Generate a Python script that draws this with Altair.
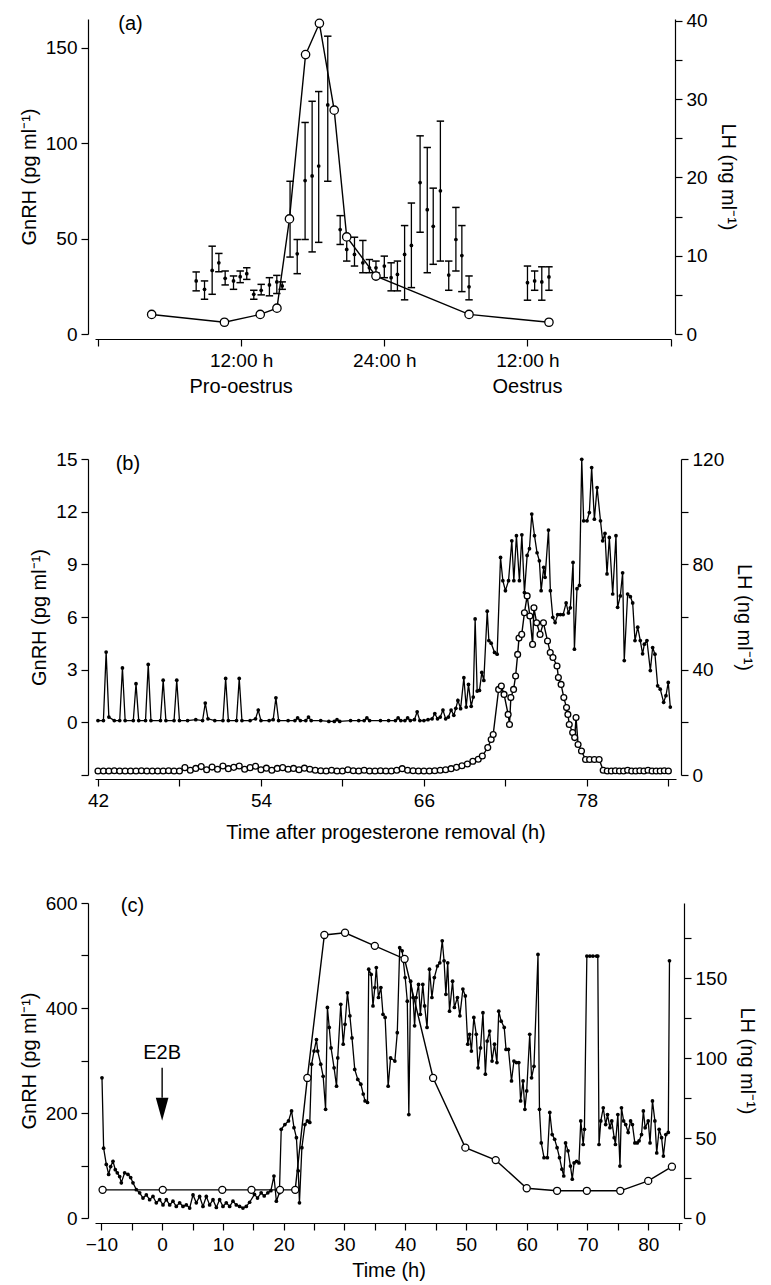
import altair as alt
import pandas as pd

FONT = "Liberation Sans"
SUP = "\u207b\u00b9"

# ---------------- panel (a) ----------------
a_lh_t = [4.5, 10.6, 13.6, 15.0, 16.05, 17.4, 18.56, 19.8, 20.85, 23.3, 31.1, 37.8]
a_lh_v = [2.5, 1.5, 2.5, 3.3, 14.7, 35.7, 39.7, 28.6, 12.4, 7.4, 2.5, 1.5]

a_g_t = [8.23, 8.93, 9.57, 10.13, 10.66, 11.36, 11.92, 12.47, 13.06, 13.68, 14.37, 14.99, 15.44,
         16.1, 16.7, 17.36, 17.95, 18.5, 19.26, 20.3, 20.85, 21.5, 22.2, 22.75, 23.3, 24.0, 24.57,
         25.1, 25.7, 26.27, 27.0, 27.6, 28.1, 28.7, 29.4, 30.0, 30.5, 31.1, 36.0, 36.6, 37.2, 37.8]
a_g_mean = [27.8, 23.4, 33.3, 37.3, 29.2, 27.8, 30.0, 31.6, 20.8, 22.9, 25.7, 27.3, 25.2,
            60.0, 42.0, 80.4, 82.8, 88.0, 120.0, 54.7, 44.3, 41.7, 37.3, 34.7, 34.7, 35.6, 29.5,
            31.2, 41.7, 46.4, 79.3, 65.1, 56.4, 75.0, 30.9, 49.5, 41.1, 24.7, 26.9, 27.8, 27.3, 29.9]
a_g_lo = [22.6, 18.2, 20.8, 32.6, 25.7, 23.4, 26.9, 28.6, 18.2, 20.5, 20.0, 21.2, 23.4,
          40.3, 31.6, 49.5, 43.0, 48.0, 80.0, 46.9, 38.2, 35.6, 32.1, 32.1, 32.1, 29.5, 22.6,
          22.6, 17.9, 24.3, 53.3, 32.1, 36.5, 38.2, 22.9, 33.0, 22.2, 17.9, 17.7, 22.9, 17.7, 22.9]
a_g_hi = [32.5, 27.8, 46.0, 42.2, 33.0, 30.4, 33.0, 34.7, 22.9, 26.0, 29.5, 30.7, 27.3,
          80.0, 49.5, 110.8, 121.9, 127.0, 156.0, 62.0, 50.7, 50.7, 49.0, 39.0, 38.2, 40.8, 37.3,
          38.2, 56.8, 68.6, 103.8, 97.7, 76.4, 111.5, 38.2, 66.3, 56.8, 30.4, 35.6, 33.0, 35.2, 35.2]
a_phase_t = [12, 36]
a_phase_label = ["Pro-oestrus", "Oestrus"]

# ---------------- panel (b) ----------------
b_gnrh = [
    (42.0, 0.1), (42.4, 0.1), (42.6, 4.0), (42.8, 0.3), (43.2, 0.1), (43.6, 0.1), (43.8, 3.1),
    (44.0, 0.1), (44.6, 0.1), (44.8, 2.2), (45.0, 0.1), (45.5, 0.1), (45.7, 3.3), (45.9, 0.1),
    (46.6, 0.1), (46.8, 2.4), (47.0, 0.1), (47.6, 0.1), (47.8, 2.4), (48.0, 0.1), (48.6, 0.1),
    (49.2, 0.15), (49.7, 0.1), (49.9, 1.1), (50.1, 0.2), (50.6, 0.1), (51.2, 0.1), (51.4, 2.5),
    (51.6, 0.1), (52.2, 0.1), (52.4, 2.5), (52.6, 0.1), (53.2, 0.1), (53.6, 0.2), (53.8, 0.7),
    (54.0, 0.1), (54.6, 0.1), (54.9, 0.15), (55.1, 1.4), (55.3, 0.1), (56.0, 0.1), (56.5, 0.1),
    (56.7, 0.25), (56.9, 0.1), (57.3, 0.1), (57.5, 0.3), (57.7, 0.1), (58.4, 0.1), (59.0, 0.05),
    (59.4, 0.05), (59.6, 0.15), (59.8, 0.05), (60.6, 0.1), (61.2, 0.1), (61.6, 0.1), (61.8, 0.25),
    (62.0, 0.1), (62.8, 0.1), (63.4, 0.1), (63.9, 0.1), (64.1, 0.25), (64.3, 0.1), (64.6, 0.1),
    (64.8, 0.25), (65.0, 0.1), (65.3, 0.15), (65.5, 0.6), (65.7, 0.1), (66.0, 0.1), (66.3, 0.15),
    (66.6, 0.2), (66.8, 0.5), (67.0, 0.2), (67.2, 0.3), (67.4, 0.7), (67.6, 0.2), (67.8, 0.3),
    (68.0, 0.7), (68.2, 0.4), (68.35, 0.8),
    (68.5, 1.25), (68.7, 0.78), (68.94, 2.54), (69.11, 0.87), (69.28, 2.16), (69.48, 0.91),
    (69.63, 1.44), (69.77, 5.89), (69.92, 1.78), (70.09, 1.82), (70.26, 2.84), (70.41, 2.39),
    (70.66, 6.33), (70.78, 4.66), (70.95, 4.51), (71.2, 3.98), (71.39, 3.88), (71.64, 9.39),
    (71.81, 8.07), (72.0, 7.5), (72.23, 8.07), (72.47, 10.34), (72.62, 8.07), (72.81, 10.63),
    (73.03, 8.07), (73.21, 10.68), (73.4, 7.39), (73.6, 9.51), (73.77, 9.89), (73.94, 11.86),
    (74.14, 10.63), (74.33, 9.66), (74.5, 9.2), (74.63, 7.5), (74.82, 8.83), (74.92, 8.26),
    (75.17, 10.95), (75.31, 7.5), (75.49, 5.98), (75.66, 5.68), (75.85, 6.14), (76.05, 6.14),
    (76.25, 6.14), (76.47, 6.8), (76.64, 6.23), (76.78, 6.52), (76.98, 9.11), (77.08, 4.17),
    (77.27, 7.61), (77.45, 7.8), (77.62, 14.98), (77.76, 11.48), (78.01, 11.48), (78.18, 11.95),
    (78.35, 14.51), (78.55, 11.57), (78.75, 13.37), (79.0, 11.48), (79.16, 10.34), (79.33, 10.76),
    (79.48, 8.45), (79.65, 10.53), (79.9, 7.31), (80.14, 10.63), (80.26, 6.55), (80.46, 7.2),
    (80.63, 8.52), (80.75, 3.52), (81.0, 7.31), (81.2, 7.16), (81.37, 6.8), (81.54, 4.66),
    (81.74, 5.42), (81.93, 4.66), (82.1, 3.9), (82.23, 4.45), (82.42, 4.66), (82.67, 2.95),
    (82.84, 4.26), (83.01, 3.88), (83.21, 2.08), (83.4, 1.89), (83.65, 1.14), (83.82, 1.52),
    (83.99, 2.27), (84.14, 0.87),
]
b_lh = [
    (42.0, 1.5), (42.4, 1.5), (42.8, 1.5), (43.2, 1.6), (43.6, 1.5), (44.0, 1.5), (44.4, 1.5),
    (44.8, 1.5), (45.2, 1.6), (45.6, 1.5), (46.0, 1.5), (46.4, 1.5), (46.8, 1.5), (47.2, 1.6),
    (47.6, 1.5), (48.0, 1.5), (48.4, 2.8), (48.8, 1.8), (49.2, 2.5), (49.6, 3.2), (50.0, 2.0),
    (50.4, 3.0), (50.8, 2.2), (51.2, 3.4), (51.6, 2.4), (52.0, 2.9), (52.4, 3.4), (52.8, 2.2),
    (53.2, 2.8), (53.6, 3.3), (54.0, 2.0), (54.4, 2.6), (54.8, 1.8), (55.2, 2.5), (55.6, 2.8),
    (56.0, 2.2), (56.4, 2.5), (56.8, 2.0), (57.2, 2.6), (57.6, 2.2), (58.0, 1.8), (58.4, 1.6),
    (58.8, 1.5), (59.2, 1.8), (59.6, 1.5), (60.0, 1.5), (60.4, 2.0), (60.8, 1.6), (61.2, 1.5),
    (61.6, 1.8), (62.0, 1.5), (62.4, 1.5), (62.8, 1.6), (63.2, 1.5), (63.6, 1.5), (64.0, 1.8),
    (64.4, 2.4), (64.8, 1.8), (65.2, 1.6), (65.6, 1.5), (66.0, 1.5), (66.4, 1.5), (66.8, 1.6),
    (67.2, 1.8), (67.6, 2.0), (68.0, 2.4), (68.4, 2.9), (68.8, 3.5), (69.2, 4.2), (69.6, 5.2),
    (70.0, 6.0), (70.3, 7.2), (70.7, 10.4), (70.95, 13.5), (71.1, 15.4), (71.5, 32.5),
    (71.7, 33.8), (71.9, 30.6), (72.2, 23.0), (72.3, 19.2), (72.4, 29.4), (72.6, 32.5),
    (72.75, 37.6), (72.9, 45.8), (73.0, 52.0), (73.2, 53.4), (73.4, 61.6), (73.6, 68.0),
    (73.8, 60.4), (74.0, 49.6), (74.1, 63.5), (74.3, 57.8), (74.55, 53.4), (74.8, 57.8),
    (75.1, 50.9), (75.3, 46.5), (75.5, 44.6), (75.8, 41.4), (75.9, 37.0), (76.1, 34.4),
    (76.3, 29.4), (76.5, 25.6), (76.6, 23.0), (76.7, 19.2), (76.95, 16.1), (77.1, 14.2),
    (77.2, 21.8), (77.35, 11.6), (77.6, 9.1), (77.9, 5.9), (78.2, 5.9), (78.55, 5.9), (78.9, 5.9),
    (79.2, 1.8), (79.5, 1.5), (79.8, 1.5), (80.1, 1.6), (80.4, 1.5), (80.7, 1.5), (81.0, 1.8),
    (81.3, 1.5), (81.6, 1.5), (81.9, 1.6), (82.2, 1.5), (82.5, 1.8), (82.8, 1.5), (83.1, 1.5),
    (83.4, 1.5), (83.7, 1.6), (84.0, 1.5),
]

# ---------------- panel (c) ----------------
c_gnrh = [
    (-9.9, 267), (-9.63, 133), (-9.19, 102), (-8.8, 83), (-8.47, 98), (-8.09, 108), (-7.71, 92),
    (-7.38, 86), (-6.99, 79), (-6.72, 67), (-6.17, 86), (-5.62, 83), (-5.18, 77), (-4.8, 67),
    (-4.25, 54), (-3.7, 48), (-3.15, 38), (-2.6, 44), (-2.06, 35), (-1.51, 41), (-0.96, 29),
    (-0.41, 35), (0.14, 25), (0.69, 35), (1.24, 25), (1.78, 32), (2.33, 22), (2.88, 29),
    (3.43, 22), (3.98, 25), (4.53, 19), (5.08, 44), (5.62, 29), (6.17, 41), (6.72, 22),
    (7.27, 41), (7.82, 25), (8.37, 35), (8.92, 20), (9.46, 35), (10.01, 22), (10.56, 29),
    (11.11, 22), (11.66, 32), (12.21, 25), (12.75, 22), (13.3, 19), (13.85, 22),
    (14.4, 30), (15.2, 45), (15.7, 38), (16.3, 48), (16.8, 42), (17.4, 48), (17.9, 52),
    (18.4, 80), (18.8, 32), (19.3, 48), (19.6, 169), (20.2, 178), (20.8, 185), (21.3, 204),
    (21.7, 172), (22.1, 153), (22.4, 90), (22.6, 29), (23.0, 134), (23.5, 178), (23.9, 185),
    (24.3, 182), (24.6, 293), (25.0, 318), (25.4, 340), (25.6, 318), (26.1, 293), (26.5, 270),
    (26.9, 207), (27.2, 401), (27.5, 363), (27.8, 324), (28.3, 286), (28.7, 251), (28.9, 305),
    (29.4, 407), (29.8, 331), (30.1, 369), (30.5, 429), (30.9, 385), (31.25, 343), (31.7, 283),
    (32.2, 264), (32.7, 255), (33.1, 236), (33.4, 223), (33.8, 220), (34.0, 474), (34.4, 464),
    (34.7, 404), (35.0, 439), (35.25, 477), (35.6, 420), (36.0, 439), (36.35, 388), (36.7, 382),
    (37.2, 251), (37.6, 305), (38.3, 299), (38.7, 353), (39.1, 515), (39.5, 509),
    (40.0, 458), (40.35, 413), (40.6, 197), (40.9, 451), (41.3, 420), (41.55, 366), (41.8, 420),
    (42.2, 445), (42.5, 388), (42.9, 445), (43.2, 404), (43.6, 363), (44.0, 474), (44.4, 420),
    (44.8, 458), (45.3, 480), (45.7, 486), (46.1, 528), (46.4, 490), (46.7, 426), (47.0, 486),
    (47.3, 394), (47.8, 451), (48.1, 401), (48.6, 420), (49.0, 385), (49.5, 436), (49.9, 423),
    (50.3, 331), (50.6, 350), (50.9, 318), (51.3, 382), (51.7, 350), (52.0, 286), (52.4, 324),
    (52.8, 391), (53.2, 274), (53.5, 337), (53.9, 356), (54.3, 299), (54.7, 331), (55.1, 296),
    (55.4, 394), (55.8, 375), (56.3, 363), (56.6, 321), (57.0, 321), (57.5, 261), (57.9, 299),
    (58.3, 296), (58.7, 296), (59.0, 223), (59.4, 261), (59.7, 207), (60.0, 242), (60.5, 350),
    (60.8, 267), (61.2, 289),
    (61.86, 502), (62.1, 207), (62.4, 143), (62.85, 115), (63.4, 115), (63.8, 201), (64.2, 159),
    (64.6, 150), (65.0, 134), (65.4, 115), (65.8, 93), (66.1, 80), (66.4, 143), (66.8, 128),
    (67.2, 99), (67.5, 74), (67.8, 105), (68.2, 108), (68.6, 105), (68.9, 185), (69.3, 140),
    (69.5, 169), (69.9, 499), (70.4, 499), (70.9, 499), (71.5, 499), (71.7, 499), (71.9, 140),
    (72.2, 185), (72.6, 210), (73.0, 178), (73.3, 197), (73.7, 172), (74.0, 185), (74.4, 153),
    (74.6, 140), (75.0, 197), (75.35, 99), (75.6, 210), (75.95, 185), (76.3, 178), (76.7, 163),
    (77.1, 185), (77.4, 178), (77.8, 143), (78.2, 143), (78.5, 147), (78.9, 159), (79.2, 204),
    (79.5, 172), (80.0, 185), (80.3, 143), (80.7, 223), (81.1, 185), (81.4, 124), (81.8, 169),
    (82.2, 153), (82.5, 118), (82.9, 159), (83.3, 163), (83.5, 490),
]
c_lh = [
    (-9.8, 17.6), (0.1, 17.6), (9.9, 17.6), (14.7, 17.6), (19.4, 17.6), (21.9, 17.6),
    (23.9, 87.6), (26.7, 177.0), (30.1, 178.4), (35.0, 170.2), (39.9, 162.0), (44.6, 87.6),
    (49.9, 44.0), (54.9, 36.2), (60.0, 18.6), (65.0, 17.0), (69.9, 17.0), (75.4, 17.0),
    (80.0, 23.2), (83.9, 32.1),
]
c_e2b_t = 0
c_e2b_text_y = 315
c_arrow_top, c_arrow_bottom, c_arrow_head = 286, 229, 207

# ---------------- helpers ----------------
def lbl_every(step, origin=0):
    return f"((datum.value - ({origin})) % {step} == 0) ? datum.label : ''"

GTITLE = "GnRH (pg ml" + SUP + ")"
LTITLE = "LH (ng ml" + SUP + ")"

def left_axis(values, expr=None):
    kw = dict(values=values, title=GTITLE, orient="left", offset=7, titlePadding=6)
    if expr:
        kw["labelExpr"] = expr
    return alt.Axis(**kw)

def right_axis(values, expr, offset):
    return alt.Axis(values=values, title=LTITLE, orient="right", offset=offset,
                    labelExpr=expr, titlePadding=10)

def open_circles(df, x, y, size):
    line = alt.Chart(df).mark_line(color="black", strokeWidth=1.4).encode(x=x, y=y)
    pts = alt.Chart(df).mark_circle(fill="white", stroke="black", strokeWidth=1.3,
                                    size=size, opacity=1).encode(x=x, y=y)
    return line, pts

def label_text(txt, t, v, x, yscale, yaxis):
    df = pd.DataFrame({"t": [t], "v": [v], "s": [txt]})
    return alt.Chart(df).mark_text(font=FONT, fontSize=20, align="left", baseline="middle",
                                   color="black").encode(
        x=x, y=alt.Y("v:Q", scale=yscale, axis=yaxis), text="s:N")

# ---------------- panel (a) ----------------
xa_scale = alt.Scale(domain=[-0.25, 48.03], nice=False, zero=False)
xa_axis = alt.Axis(values=[0, 12, 24, 36, 48], offset=5, title=None, labelPadding=5,
                   labelExpr="datum.value == 24 ? '24:00 h' : (datum.value == 12 || datum.value == 36) ? '12:00 h' : ''")
xa = alt.X("t:Q", scale=xa_scale, axis=xa_axis)
ya_scale = alt.Scale(domain=[0, 165], nice=False, zero=False)
ya_axis = left_axis([0, 50, 100, 150])
yr_a_scale = alt.Scale(domain=[0, 40.25], nice=False, zero=False)
yr_a_axis = right_axis(list(range(0, 41, 5)), lbl_every(10), 4)

a_g = pd.DataFrame({"t": a_g_t, "m": a_g_mean, "lo": a_g_lo, "hi": a_g_hi})
a_bars = alt.Chart(a_g).mark_rule(color="black", strokeWidth=1.3).encode(
    x=xa, y=alt.Y("lo:Q", scale=ya_scale, axis=ya_axis), y2="hi:Q")
cap = "M-1,0L1,0"
a_cap_lo = alt.Chart(a_g).mark_point(shape=cap, size=55, stroke="black", strokeWidth=1.5,
                                     filled=False, opacity=1).encode(
    x=xa, y=alt.Y("lo:Q", scale=ya_scale, axis=ya_axis))
a_cap_hi = alt.Chart(a_g).mark_point(shape=cap, size=55, stroke="black", strokeWidth=1.5,
                                     filled=False, opacity=1).encode(
    x=xa, y=alt.Y("hi:Q", scale=ya_scale, axis=ya_axis))
a_mean = alt.Chart(a_g).mark_circle(color="black", size=14, opacity=1).encode(
    x=xa, y=alt.Y("m:Q", scale=ya_scale, axis=ya_axis))
a_lab = label_text("(a)", 1.7, 162.5, xa, ya_scale, ya_axis)
a_phase = alt.Chart(pd.DataFrame({"t": a_phase_t, "s": a_phase_label})).mark_text(
    font=FONT, fontSize=20, baseline="middle", color="black").encode(
    x=xa, y=alt.value(368), text="s:N")

a_lh = pd.DataFrame({"t": a_lh_t, "v": a_lh_v})
a_lh_line, a_lh_pts = open_circles(a_lh, xa, alt.Y("v:Q", scale=yr_a_scale, axis=yr_a_axis), 70)

panel_a = alt.layer(
    alt.layer(a_bars, a_cap_lo, a_cap_hi, a_mean, a_lab, a_phase),
    alt.layer(a_lh_line, a_lh_pts),
).resolve_scale(y="independent").properties(width=576, height=315)

# ---------------- panel (b) ----------------
xb_scale = alt.Scale(domain=[41.78, 84.56], nice=False, zero=False)
xb_axis = alt.Axis(values=list(range(42, 85, 6)), labelExpr=lbl_every(12, 42), offset=4,
                   title="Time after progesterone removal (h)", labelPadding=5, titlePadding=12)
xb = alt.X("t:Q", scale=xb_scale, axis=xb_axis)
yb_scale = alt.Scale(domain=[-3, 15], nice=False, zero=False)
yb_axis = left_axis(list(range(-3, 16, 3)), "datum.value < 0 ? '' : datum.label")
yr_b_scale = alt.Scale(domain=[0, 120], nice=False, zero=False)
yr_b_axis = right_axis(list(range(0, 121, 20)), lbl_every(40), 5)

b_g = pd.DataFrame(b_gnrh, columns=["t", "v"])
b_g_line = alt.Chart(b_g).mark_line(color="black", strokeWidth=1.3).encode(
    x=xb, y=alt.Y("v:Q", scale=yb_scale, axis=yb_axis))
b_g_pts = alt.Chart(b_g).mark_circle(color="black", size=14, opacity=1).encode(
    x=xb, y=alt.Y("v:Q", scale=yb_scale, axis=yb_axis))
b_lab = label_text("(b)", 43.3, 14.7, xb, yb_scale, yb_axis)
b_l = pd.DataFrame(b_lh, columns=["t", "v"])
b_lh_line, b_lh_pts = open_circles(b_l, xb, alt.Y("v:Q", scale=yr_b_scale, axis=yr_b_axis), 34)

panel_b = alt.layer(
    alt.layer(b_g_line, b_g_pts, b_lab),
    alt.layer(b_lh_line, b_lh_pts),
).resolve_scale(y="independent").properties(width=581, height=316)

# ---------------- panel (c) ----------------
xc_scale = alt.Scale(domain=[-11.05, 85.56], nice=False, zero=False)
xc_axis = alt.Axis(values=list(range(-10, 86, 5)), labelExpr=lbl_every(10), offset=5,
                   title="Time (h)", labelPadding=5, titlePadding=6)
xc = alt.X("t:Q", scale=xc_scale, axis=xc_axis)
yc_scale = alt.Scale(domain=[0, 600], nice=False, zero=False)
yc_axis = left_axis(list(range(0, 601, 100)), lbl_every(200))
yr_c_scale = alt.Scale(domain=[0, 197], nice=False, zero=False)
yr_c_axis = right_axis(list(range(0, 176, 25)), lbl_every(50), 2)

c_g = pd.DataFrame(c_gnrh, columns=["t", "v"])
c_g_line = alt.Chart(c_g).mark_line(color="black", strokeWidth=1.3).encode(
    x=xc, y=alt.Y("v:Q", scale=yc_scale, axis=yc_axis))
c_g_pts = alt.Chart(c_g).mark_circle(color="black", size=14, opacity=1).encode(
    x=xc, y=alt.Y("v:Q", scale=yc_scale, axis=yc_axis))
c_lab = label_text("(c)", -6.8, 595, xc, yc_scale, yc_axis)
c_e2b = alt.Chart(pd.DataFrame({"t": [c_e2b_t], "v": [c_e2b_text_y], "s": ["E2B"]})).mark_text(
    font=FONT, fontSize=20, baseline="middle", color="black").encode(
    x=xc, y=alt.Y("v:Q", scale=yc_scale, axis=yc_axis), text="s:N")
c_arrow = alt.Chart(pd.DataFrame({"t": [c_e2b_t], "a": [c_arrow_top], "b": [c_arrow_bottom]})).mark_rule(
    color="black", strokeWidth=1.4).encode(
    x=xc, y=alt.Y("a:Q", scale=yc_scale, axis=yc_axis), y2="b:Q")
c_head = alt.Chart(pd.DataFrame({"t": [c_e2b_t], "v": [c_arrow_head]})).mark_point(
    shape="M-0.55,-1L0.55,-1L0,1Z", size=529, filled=True, color="black", opacity=1).encode(
    x=xc, y=alt.Y("v:Q", scale=yc_scale, axis=yc_axis))
c_l = pd.DataFrame(c_lh, columns=["t", "v"])
c_lh_line, c_lh_pts = open_circles(c_l, xc, alt.Y("v:Q", scale=yr_c_scale, axis=yr_c_axis), 50)

panel_c = alt.layer(
    alt.layer(c_g_line, c_g_pts, c_lab, c_e2b, c_arrow, c_head),
    alt.layer(c_lh_line, c_lh_pts),
).resolve_scale(y="independent").properties(width=587, height=315)

top_two = alt.vconcat(panel_a, panel_b, spacing=53)
chart = alt.vconcat(top_two, panel_c, spacing=52).properties(
    padding={"left": 11, "top": 3, "right": 5, "bottom": 3}, background="white"
).configure_view(stroke=None).configure_axis(
    labelFont=FONT, titleFont=FONT, labelFontSize=19, titleFontSize=20,
    titleFontWeight="normal", labelColor="black", titleColor="black",
    domainColor="black", tickColor="black", domainWidth=1.2, tickWidth=1.2,
    tickSize=7, grid=False, labelPadding=4,
)

chart.save("out.html", embed_options={"renderer": "svg", "actions": False})
